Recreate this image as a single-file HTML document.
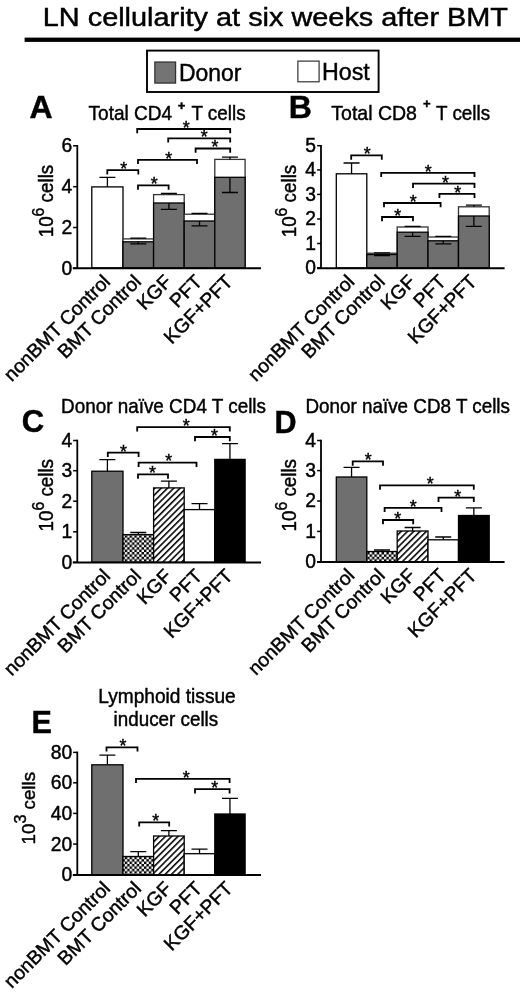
<!DOCTYPE html>
<html lang="en"><head><meta charset="utf-8"><title>LN cellularity at six weeks after BMT</title>
<style>html,body{margin:0;padding:0;background:#fff}svg{display:block}text{font-family:'Liberation Sans', Arial, Helvetica, sans-serif;fill:#000;stroke:#000;stroke-width:0.45px}</style></head><body>
<svg width="520" height="993" viewBox="0 0 520 993">
<defs>
<pattern id="hatch" width="4.45" height="4.45" patternUnits="userSpaceOnUse" patternTransform="rotate(-45)"><rect width="4.45" height="4.45" fill="#fff"/><rect y="0" width="4.45" height="1.55" fill="#000"/></pattern>
<pattern id="check" width="4.8" height="4.8" patternUnits="userSpaceOnUse"><rect width="4.8" height="4.8" fill="#000"/><rect x="0" y="0" width="2.4" height="2.4" fill="#fff" rx="0.5"/><rect x="2.4" y="2.4" width="2.4" height="2.4" fill="#fff" rx="0.5"/></pattern>
</defs>
<rect width="520" height="993" fill="#fff"/>
<text x="42.8" y="25.8" font-size="25.8" textLength="465.2" lengthAdjust="spacingAndGlyphs">LN cellularity at six weeks after BMT</text>
<rect x="24.6" y="37.6" width="495.4" height="4.3" fill="#000"/>
<rect x="147" y="50.6" width="231.6" height="41.4" fill="#fff" stroke="#000" stroke-width="1.9"/>
<rect x="154.85" y="62.05" width="20.7" height="21" fill="#747474" stroke="#333" stroke-width="1.3"/>
<text x="179" y="80.6" font-size="24.6" textLength="62.5" lengthAdjust="spacingAndGlyphs">Donor</text>
<rect x="297.9" y="61.1" width="21.2" height="20.7" fill="#fff" stroke="#333" stroke-width="1.2"/>
<text x="322" y="79.8" font-size="24.6" textLength="47.8" lengthAdjust="spacingAndGlyphs">Host</text>
<text x="29.6" y="118" font-size="32" font-weight="bold">A</text>
<text x="88.6" y="119.5" font-size="20.8" textLength="83.6" lengthAdjust="spacingAndGlyphs">Total CD4</text>
<text x="181.6" y="109.8" font-size="13" text-anchor="middle" font-weight="bold">+</text>
<text x="191.4" y="119.5" font-size="20.8" textLength="54.2" lengthAdjust="spacingAndGlyphs">T cells</text>
<rect x="91.8" y="186.9" width="31.2" height="81.1" fill="#fff" stroke="#000" stroke-width="1.3"/>
<path d="M107.4 186.9V177.3M99.4 177.3H115.4" fill="none" stroke="#000" stroke-width="1.3"/>
<rect x="123.0" y="238.9" width="30.6" height="29.1" fill="#fff" stroke="#333" stroke-width="1.3"/>
<rect x="123.0" y="241.8" width="30.6" height="26.2" fill="#6f6f6f" stroke="#000" stroke-width="1.3"/>
<path d="M138.3 241.8V243.8M130.3 243.8H146.3" fill="none" stroke="#000" stroke-width="1.3"/>
<path d="M138.3 238.9V238.2M130.3 238.2H146.3" fill="none" stroke="#000" stroke-width="1.3"/>
<rect x="153.6" y="194.6" width="30.6" height="73.4" fill="#fff" stroke="#333" stroke-width="1.3"/>
<rect x="153.6" y="203.0" width="30.6" height="65.0" fill="#6f6f6f" stroke="#000" stroke-width="1.3"/>
<path d="M168.89999999999998 203.0V209.4M160.89999999999998 209.4H176.89999999999998" fill="none" stroke="#000" stroke-width="1.3"/>
<path d="M168.89999999999998 194.6V193.4M160.89999999999998 193.4H176.89999999999998" fill="none" stroke="#000" stroke-width="1.3"/>
<rect x="184.2" y="214.2" width="30.6" height="53.8" fill="#fff" stroke="#333" stroke-width="1.3"/>
<rect x="184.2" y="221.0" width="30.6" height="47.0" fill="#6f6f6f" stroke="#000" stroke-width="1.3"/>
<path d="M199.5 221.0V225.8M191.5 225.8H207.5" fill="none" stroke="#000" stroke-width="1.3"/>
<path d="M199.5 214.2V213.3M191.5 213.3H207.5" fill="none" stroke="#000" stroke-width="1.3"/>
<rect x="214.8" y="159.4" width="30.3" height="108.6" fill="#fff" stroke="#333" stroke-width="1.3"/>
<rect x="214.8" y="177.3" width="30.3" height="90.7" fill="#6f6f6f" stroke="#000" stroke-width="1.3"/>
<path d="M229.95 177.3V192.5M221.95 192.5H237.95" fill="none" stroke="#000" stroke-width="1.3"/>
<path d="M229.95 159.4V157.2M221.95 157.2H237.95" fill="none" stroke="#000" stroke-width="1.3"/>
<path d="M77.3 145.0V268.0" stroke="#000" stroke-width="1.8" fill="none"/>
<path d="M73.1 145.8H77.3" stroke="#000" stroke-width="1.5" fill="none"/>
<text x="72.3" y="151.9" font-size="19.3" text-anchor="end">6</text>
<path d="M73.1 186.7H77.3" stroke="#000" stroke-width="1.5" fill="none"/>
<text x="72.3" y="193.1" font-size="19.3" text-anchor="end">4</text>
<path d="M73.1 227.5H77.3" stroke="#000" stroke-width="1.5" fill="none"/>
<text x="72.3" y="233.9" font-size="19.3" text-anchor="end">2</text>
<path d="M73.1 268.3H77.3" stroke="#000" stroke-width="1.5" fill="none"/>
<text x="72.3" y="274.7" font-size="19.3" text-anchor="end">0</text>
<path d="M72.8 268.3H261" stroke="#000" stroke-width="2" fill="none"/>
<g transform="translate(53 237.3) rotate(-90) scale(0.955 1)"><text x="0" y="0" font-size="19.7">10<tspan dy="-8.9" font-size="16.5">6</tspan><tspan dy="8.9"> cells</tspan></text></g>
<path d="M137.2 133.3V129.0H230.2V133.3" fill="none" stroke="#000" stroke-width="1.8"/>
<text x="186.3" y="133.8" font-size="17.8" text-anchor="middle" stroke-width="0.5">*</text>
<path d="M168.2 142.60000000000002V138.3H230.2V142.60000000000002" fill="none" stroke="#000" stroke-width="1.8"/>
<text x="204.2" y="143.1" font-size="17.8" text-anchor="middle" stroke-width="0.5">*</text>
<path d="M195.6 152.8V148.5H230.2V152.8" fill="none" stroke="#000" stroke-width="1.8"/>
<text x="214.9" y="153.3" font-size="17.8" text-anchor="middle" stroke-width="0.5">*</text>
<path d="M138.0 164.10000000000002V159.8H197.0V164.10000000000002" fill="none" stroke="#000" stroke-width="1.8"/>
<text x="168.7" y="164.6" font-size="17.8" text-anchor="middle" stroke-width="0.5">*</text>
<path d="M107.3 174.5V170.2H138.3V174.5" fill="none" stroke="#000" stroke-width="1.8"/>
<text x="123.6" y="175.0" font-size="17.8" text-anchor="middle" stroke-width="0.5">*</text>
<path d="M138.0 189.70000000000002V185.4H168.6V189.70000000000002" fill="none" stroke="#000" stroke-width="1.8"/>
<text x="154.2" y="190.2" font-size="17.8" text-anchor="middle" stroke-width="0.5">*</text>
<text transform="translate(111.4 282.9) rotate(-45)" font-size="19.4" text-anchor="end">nonBMT Control</text>
<text transform="translate(142.3 282.9) rotate(-45)" font-size="19.4" text-anchor="end">BMT Control</text>
<text transform="translate(172.89999999999998 282.9) rotate(-45)" font-size="19.4" text-anchor="end">KGF</text>
<text transform="translate(203.5 282.9) rotate(-45)" font-size="19.4" text-anchor="end">PFT</text>
<text transform="translate(233.95 282.9) rotate(-45)" font-size="19.4" text-anchor="end">KGF+PFT</text>
<text x="288.7" y="117.6" font-size="32" font-weight="bold">B</text>
<text x="331.3" y="119.6" font-size="20.8" textLength="85.6" lengthAdjust="spacingAndGlyphs">Total CD8</text>
<text x="426.7" y="108.2" font-size="13" text-anchor="middle" font-weight="bold">+</text>
<text x="436.0" y="119.6" font-size="20.8" textLength="54.2" lengthAdjust="spacingAndGlyphs">T cells</text>
<rect x="336.3" y="173.8" width="30.5" height="94.2" fill="#fff" stroke="#000" stroke-width="1.3"/>
<path d="M351.55 173.8V163.0M343.55 163.0H359.55" fill="none" stroke="#000" stroke-width="1.3"/>
<rect x="366.8" y="253.2" width="30.4" height="14.8" fill="#fff" stroke="#333" stroke-width="1.3"/>
<rect x="366.8" y="254.5" width="30.4" height="13.5" fill="#6f6f6f" stroke="#000" stroke-width="1.3"/>
<path d="M382.0 254.5V255.6M374.0 255.6H390.0" fill="none" stroke="#000" stroke-width="1.3"/>
<path d="M382.0 253.2V252.8M374.0 252.8H390.0" fill="none" stroke="#000" stroke-width="1.3"/>
<rect x="397.2" y="227.0" width="30.8" height="41.0" fill="#fff" stroke="#333" stroke-width="1.3"/>
<rect x="397.2" y="232.2" width="30.8" height="35.8" fill="#6f6f6f" stroke="#000" stroke-width="1.3"/>
<path d="M412.6 232.2V236.4M404.6 236.4H420.6" fill="none" stroke="#000" stroke-width="1.3"/>
<path d="M412.6 227.0V226.3M404.6 226.3H420.6" fill="none" stroke="#000" stroke-width="1.3"/>
<rect x="428.0" y="237.0" width="30.5" height="31.0" fill="#fff" stroke="#333" stroke-width="1.3"/>
<rect x="428.0" y="240.8" width="30.5" height="27.2" fill="#6f6f6f" stroke="#000" stroke-width="1.3"/>
<path d="M443.25 240.8V243.8M435.25 243.8H451.25" fill="none" stroke="#000" stroke-width="1.3"/>
<path d="M443.25 237.0V236.3M435.25 236.3H451.25" fill="none" stroke="#000" stroke-width="1.3"/>
<rect x="458.5" y="206.8" width="30.7" height="61.2" fill="#fff" stroke="#333" stroke-width="1.3"/>
<rect x="458.5" y="216.0" width="30.7" height="52.0" fill="#6f6f6f" stroke="#000" stroke-width="1.3"/>
<path d="M473.85 216.0V226.3M465.85 226.3H481.85" fill="none" stroke="#000" stroke-width="1.3"/>
<path d="M473.85 206.8V205.2M465.85 205.2H481.85" fill="none" stroke="#000" stroke-width="1.3"/>
<path d="M321.0 144.9V268.0" stroke="#000" stroke-width="1.8" fill="none"/>
<path d="M317.1 145.7H321.0" stroke="#000" stroke-width="1.5" fill="none"/>
<text x="316.1" y="151.8" font-size="19.3" text-anchor="end">5</text>
<path d="M317.1 169.9H321.0" stroke="#000" stroke-width="1.5" fill="none"/>
<text x="316.1" y="176.3" font-size="19.3" text-anchor="end">4</text>
<path d="M317.1 194.4H321.0" stroke="#000" stroke-width="1.5" fill="none"/>
<text x="316.1" y="200.8" font-size="19.3" text-anchor="end">3</text>
<path d="M317.1 219.0H321.0" stroke="#000" stroke-width="1.5" fill="none"/>
<text x="316.1" y="225.4" font-size="19.3" text-anchor="end">2</text>
<path d="M317.1 243.5H321.0" stroke="#000" stroke-width="1.5" fill="none"/>
<text x="316.1" y="249.9" font-size="19.3" text-anchor="end">1</text>
<path d="M317.1 268.0H321.0" stroke="#000" stroke-width="1.5" fill="none"/>
<text x="316.1" y="274.4" font-size="19.3" text-anchor="end">0</text>
<path d="M317.1 268.3H504.6" stroke="#000" stroke-width="2" fill="none"/>
<g transform="translate(296 237.3) rotate(-90) scale(0.955 1)"><text x="0" y="0" font-size="19.7">10<tspan dy="-8.9" font-size="16.5">6</tspan><tspan dy="8.9"> cells</tspan></text></g>
<path d="M351.2 159.70000000000002V155.4H381.8V159.70000000000002" fill="none" stroke="#000" stroke-width="1.8"/>
<text x="367.2" y="160.2" font-size="17.8" text-anchor="middle" stroke-width="0.5">*</text>
<path d="M381.2 177.10000000000002V172.8H474.5V177.10000000000002" fill="none" stroke="#000" stroke-width="1.8"/>
<text x="428.3" y="177.6" font-size="17.8" text-anchor="middle" stroke-width="0.5">*</text>
<path d="M413.0 188.0V183.7H474.5V188.0" fill="none" stroke="#000" stroke-width="1.8"/>
<text x="445.5" y="188.5" font-size="17.8" text-anchor="middle" stroke-width="0.5">*</text>
<path d="M439.4 198.10000000000002V193.8H474.5V198.10000000000002" fill="none" stroke="#000" stroke-width="1.8"/>
<text x="457.8" y="198.6" font-size="17.8" text-anchor="middle" stroke-width="0.5">*</text>
<path d="M384.0 207.3V203.0H440.6V207.3" fill="none" stroke="#000" stroke-width="1.8"/>
<text x="413.2" y="207.8" font-size="17.8" text-anchor="middle" stroke-width="0.5">*</text>
<path d="M382.0 221.3V217.0H413.0V221.3" fill="none" stroke="#000" stroke-width="1.8"/>
<text x="397.8" y="221.8" font-size="17.8" text-anchor="middle" stroke-width="0.5">*</text>
<text transform="translate(355.55 282.9) rotate(-45)" font-size="19.4" text-anchor="end">nonBMT Control</text>
<text transform="translate(386.0 282.9) rotate(-45)" font-size="19.4" text-anchor="end">BMT Control</text>
<text transform="translate(416.6 282.9) rotate(-45)" font-size="19.4" text-anchor="end">KGF</text>
<text transform="translate(447.25 282.9) rotate(-45)" font-size="19.4" text-anchor="end">PFT</text>
<text transform="translate(477.85 282.9) rotate(-45)" font-size="19.4" text-anchor="end">KGF+PFT</text>
<text x="21.8" y="432" font-size="31" font-weight="bold">C</text>
<text x="61" y="413.4" font-size="20.3" textLength="205" lengthAdjust="spacingAndGlyphs">Donor naïve CD4 T cells</text>
<path d="M107.4 471.2V459.6M99.4 459.6H115.4" fill="none" stroke="#000" stroke-width="1.3"/>
<rect x="91.8" y="471.2" width="31.2" height="91.1" fill="#6f6f6f" stroke="#000" stroke-width="1.3"/>
<path d="M138.3 534.6V532.5M130.3 532.5H146.3" fill="none" stroke="#000" stroke-width="1.3"/>
<rect x="123.0" y="534.6" width="30.6" height="27.7" fill="url(#check)" stroke="#000" stroke-width="1.3"/>
<path d="M168.89999999999998 487.9V481.2M160.89999999999998 481.2H176.89999999999998" fill="none" stroke="#000" stroke-width="1.3"/>
<rect x="153.6" y="487.9" width="30.6" height="74.4" fill="url(#hatch)" stroke="#000" stroke-width="1.3"/>
<path d="M199.5 509.6V503.7M191.5 503.7H207.5" fill="none" stroke="#000" stroke-width="1.3"/>
<rect x="184.2" y="509.6" width="30.6" height="52.7" fill="#fff" stroke="#000" stroke-width="1.3"/>
<path d="M229.95 459.4V443.7M221.95 443.7H237.95" fill="none" stroke="#000" stroke-width="1.3"/>
<rect x="214.8" y="459.4" width="30.3" height="102.9" fill="#000" stroke="#000" stroke-width="1.3"/>
<path d="M77.3 439.7V562.3" stroke="#000" stroke-width="1.8" fill="none"/>
<path d="M73.1 440.5H77.3" stroke="#000" stroke-width="1.5" fill="none"/>
<text x="72.3" y="446.6" font-size="19.3" text-anchor="end">4</text>
<path d="M73.1 470.7H77.3" stroke="#000" stroke-width="1.5" fill="none"/>
<text x="72.3" y="477.1" font-size="19.3" text-anchor="end">3</text>
<path d="M73.1 501.2H77.3" stroke="#000" stroke-width="1.5" fill="none"/>
<text x="72.3" y="507.6" font-size="19.3" text-anchor="end">2</text>
<path d="M73.1 531.8H77.3" stroke="#000" stroke-width="1.5" fill="none"/>
<text x="72.3" y="538.2" font-size="19.3" text-anchor="end">1</text>
<path d="M73.1 562.3H77.3" stroke="#000" stroke-width="1.5" fill="none"/>
<text x="72.3" y="568.7" font-size="19.3" text-anchor="end">0</text>
<path d="M72.8 562.5999999999999H261" stroke="#000" stroke-width="2" fill="none"/>
<g transform="translate(53 531.5) rotate(-90) scale(0.955 1)"><text x="0" y="0" font-size="19.7">10<tspan dy="-8.9" font-size="16.5">6</tspan><tspan dy="8.9"> cells</tspan></text></g>
<path d="M137.2 431.5V427.2H229.8V431.5" fill="none" stroke="#000" stroke-width="1.8"/>
<text x="186.3" y="432.0" font-size="17.8" text-anchor="middle" stroke-width="0.5">*</text>
<path d="M195.0 441.3V437.0H229.8V441.3" fill="none" stroke="#000" stroke-width="1.8"/>
<text x="214.4" y="441.8" font-size="17.8" text-anchor="middle" stroke-width="0.5">*</text>
<path d="M107.8 457.0V452.7H138.6V457.0" fill="none" stroke="#000" stroke-width="1.8"/>
<text x="123.5" y="457.5" font-size="17.8" text-anchor="middle" stroke-width="0.5">*</text>
<path d="M138.6 466.90000000000003V462.6H196.5V466.90000000000003" fill="none" stroke="#000" stroke-width="1.8"/>
<text x="168.7" y="467.4" font-size="17.8" text-anchor="middle" stroke-width="0.5">*</text>
<path d="M138.0 478.7V474.4H168.0V478.7" fill="none" stroke="#000" stroke-width="1.8"/>
<text x="152.5" y="479.2" font-size="17.8" text-anchor="middle" stroke-width="0.5">*</text>
<text transform="translate(111.4 577.1999999999999) rotate(-45)" font-size="19.4" text-anchor="end">nonBMT Control</text>
<text transform="translate(142.3 577.1999999999999) rotate(-45)" font-size="19.4" text-anchor="end">BMT Control</text>
<text transform="translate(172.89999999999998 577.1999999999999) rotate(-45)" font-size="19.4" text-anchor="end">KGF</text>
<text transform="translate(203.5 577.1999999999999) rotate(-45)" font-size="19.4" text-anchor="end">PFT</text>
<text transform="translate(233.95 577.1999999999999) rotate(-45)" font-size="19.4" text-anchor="end">KGF+PFT</text>
<text x="274.6" y="432.5" font-size="30.5" font-weight="bold">D</text>
<text x="305.4" y="412.5" font-size="20.3" textLength="204.6" lengthAdjust="spacingAndGlyphs">Donor naïve CD8 T cells</text>
<path d="M351.55 477.0V467.3M343.55 467.3H359.55" fill="none" stroke="#000" stroke-width="1.3"/>
<rect x="336.3" y="477.0" width="30.5" height="84.8" fill="#6f6f6f" stroke="#000" stroke-width="1.3"/>
<path d="M382.0 551.5V550.0M374.0 550.0H390.0" fill="none" stroke="#000" stroke-width="1.3"/>
<rect x="366.8" y="551.5" width="30.4" height="10.3" fill="url(#check)" stroke="#000" stroke-width="1.3"/>
<path d="M412.6 531.0V527.5M404.6 527.5H420.6" fill="none" stroke="#000" stroke-width="1.3"/>
<rect x="397.2" y="531.0" width="30.8" height="30.8" fill="url(#hatch)" stroke="#000" stroke-width="1.3"/>
<path d="M443.25 539.8V537.0M435.25 537.0H451.25" fill="none" stroke="#000" stroke-width="1.3"/>
<rect x="428.0" y="539.8" width="30.5" height="22.0" fill="#fff" stroke="#000" stroke-width="1.3"/>
<path d="M473.85 515.5V507.8M465.85 507.8H481.85" fill="none" stroke="#000" stroke-width="1.3"/>
<rect x="458.5" y="515.5" width="30.7" height="46.3" fill="#000" stroke="#000" stroke-width="1.3"/>
<path d="M321.0 439.7V561.8" stroke="#000" stroke-width="1.8" fill="none"/>
<path d="M317.1 440.5H321.0" stroke="#000" stroke-width="1.5" fill="none"/>
<text x="316.1" y="446.6" font-size="19.3" text-anchor="end">4</text>
<path d="M317.1 470.6H321.0" stroke="#000" stroke-width="1.5" fill="none"/>
<text x="316.1" y="477.0" font-size="19.3" text-anchor="end">3</text>
<path d="M317.1 501.0H321.0" stroke="#000" stroke-width="1.5" fill="none"/>
<text x="316.1" y="507.4" font-size="19.3" text-anchor="end">2</text>
<path d="M317.1 531.4H321.0" stroke="#000" stroke-width="1.5" fill="none"/>
<text x="316.1" y="537.8" font-size="19.3" text-anchor="end">1</text>
<path d="M317.1 561.8H321.0" stroke="#000" stroke-width="1.5" fill="none"/>
<text x="316.1" y="568.2" font-size="19.3" text-anchor="end">0</text>
<path d="M317.1 562.0999999999999H504.6" stroke="#000" stroke-width="2" fill="none"/>
<g transform="translate(296 531.5) rotate(-90) scale(0.955 1)"><text x="0" y="0" font-size="19.7">10<tspan dy="-8.9" font-size="16.5">6</tspan><tspan dy="8.9"> cells</tspan></text></g>
<path d="M352.7 465.7V461.4H383.0V465.7" fill="none" stroke="#000" stroke-width="1.8"/>
<text x="368.3" y="466.2" font-size="17.8" text-anchor="middle" stroke-width="0.5">*</text>
<path d="M380.0 489.7V485.4H473.8V489.7" fill="none" stroke="#000" stroke-width="1.8"/>
<text x="430.2" y="490.2" font-size="17.8" text-anchor="middle" stroke-width="0.5">*</text>
<path d="M438.5 502.0V497.7H473.8V502.0" fill="none" stroke="#000" stroke-width="1.8"/>
<text x="457.8" y="502.5" font-size="17.8" text-anchor="middle" stroke-width="0.5">*</text>
<path d="M384.6 512.1V507.8H441.5V512.1" fill="none" stroke="#000" stroke-width="1.8"/>
<text x="413.2" y="512.6" font-size="17.8" text-anchor="middle" stroke-width="0.5">*</text>
<path d="M383.0 524.3V520.0H413.2V524.3" fill="none" stroke="#000" stroke-width="1.8"/>
<text x="397.8" y="524.8" font-size="17.8" text-anchor="middle" stroke-width="0.5">*</text>
<text transform="translate(355.55 576.6999999999999) rotate(-45)" font-size="19.4" text-anchor="end">nonBMT Control</text>
<text transform="translate(386.0 576.6999999999999) rotate(-45)" font-size="19.4" text-anchor="end">BMT Control</text>
<text transform="translate(416.6 576.6999999999999) rotate(-45)" font-size="19.4" text-anchor="end">KGF</text>
<text transform="translate(447.25 576.6999999999999) rotate(-45)" font-size="19.4" text-anchor="end">PFT</text>
<text transform="translate(477.85 576.6999999999999) rotate(-45)" font-size="19.4" text-anchor="end">KGF+PFT</text>
<text x="31.5" y="733.2" font-size="30.5" font-weight="bold">E</text>
<text x="98.3" y="702.5" font-size="20" textLength="137.4" lengthAdjust="spacingAndGlyphs">Lymphoid tissue</text>
<text x="113.6" y="725.7" font-size="20" textLength="104.6" lengthAdjust="spacingAndGlyphs">inducer cells</text>
<path d="M107.4 764.8V755.2M99.4 755.2H115.4" fill="none" stroke="#000" stroke-width="1.3"/>
<rect x="91.8" y="764.8" width="31.2" height="109.9" fill="#6f6f6f" stroke="#000" stroke-width="1.3"/>
<path d="M138.3 856.5V851.7M130.3 851.7H146.3" fill="none" stroke="#000" stroke-width="1.3"/>
<rect x="123.0" y="856.5" width="30.6" height="18.2" fill="url(#check)" stroke="#000" stroke-width="1.3"/>
<path d="M168.89999999999998 836.0V830.6M160.89999999999998 830.6H176.89999999999998" fill="none" stroke="#000" stroke-width="1.3"/>
<rect x="153.6" y="836.0" width="30.6" height="38.7" fill="url(#hatch)" stroke="#000" stroke-width="1.3"/>
<path d="M199.5 853.7V849.2M191.5 849.2H207.5" fill="none" stroke="#000" stroke-width="1.3"/>
<rect x="184.2" y="853.7" width="30.6" height="21.0" fill="#fff" stroke="#000" stroke-width="1.3"/>
<path d="M229.95 814.0V798.3M221.95 798.3H237.95" fill="none" stroke="#000" stroke-width="1.3"/>
<rect x="214.8" y="814.0" width="30.3" height="60.7" fill="#000" stroke="#000" stroke-width="1.3"/>
<path d="M77.3 751.6V874.7" stroke="#000" stroke-width="1.8" fill="none"/>
<path d="M73.1 752.4H77.3" stroke="#000" stroke-width="1.5" fill="none"/>
<text x="72.3" y="758.5" font-size="19.3" text-anchor="end">80</text>
<path d="M73.1 782.8H77.3" stroke="#000" stroke-width="1.5" fill="none"/>
<text x="72.3" y="789.2" font-size="19.3" text-anchor="end">60</text>
<path d="M73.1 813.4H77.3" stroke="#000" stroke-width="1.5" fill="none"/>
<text x="72.3" y="819.8" font-size="19.3" text-anchor="end">40</text>
<path d="M73.1 844.1H77.3" stroke="#000" stroke-width="1.5" fill="none"/>
<text x="72.3" y="850.5" font-size="19.3" text-anchor="end">20</text>
<path d="M73.1 874.7H77.3" stroke="#000" stroke-width="1.5" fill="none"/>
<text x="72.3" y="881.1" font-size="19.3" text-anchor="end">0</text>
<path d="M72.8 875.0H261" stroke="#000" stroke-width="2" fill="none"/>
<g transform="translate(35.0 844.4) rotate(-90) scale(0.975 1)"><text x="0" y="0" font-size="19.2">10<tspan dy="-8.9" font-size="16.5">3</tspan><tspan dy="8.9"> cells</tspan></text></g>
<path d="M106.5 751.5999999999999V747.3H137.5V751.5999999999999" fill="none" stroke="#000" stroke-width="1.8"/>
<text x="122.9" y="752.1" font-size="17.8" text-anchor="middle" stroke-width="0.5">*</text>
<path d="M136.0 783.0999999999999V778.8H229.6V783.0999999999999" fill="none" stroke="#000" stroke-width="1.8"/>
<text x="186.3" y="783.6" font-size="17.8" text-anchor="middle" stroke-width="0.5">*</text>
<path d="M195.0 793.5V789.2H229.6V793.5" fill="none" stroke="#000" stroke-width="1.8"/>
<text x="214.8" y="794.0" font-size="17.8" text-anchor="middle" stroke-width="0.5">*</text>
<path d="M139.2 826.5999999999999V822.3H169.2V826.5999999999999" fill="none" stroke="#000" stroke-width="1.8"/>
<text x="155.6" y="827.1" font-size="17.8" text-anchor="middle" stroke-width="0.5">*</text>
<text transform="translate(111.4 889.6) rotate(-45)" font-size="19.4" text-anchor="end">nonBMT Control</text>
<text transform="translate(142.3 889.6) rotate(-45)" font-size="19.4" text-anchor="end">BMT Control</text>
<text transform="translate(172.89999999999998 889.6) rotate(-45)" font-size="19.4" text-anchor="end">KGF</text>
<text transform="translate(203.5 889.6) rotate(-45)" font-size="19.4" text-anchor="end">PFT</text>
<text transform="translate(233.95 889.6) rotate(-45)" font-size="19.4" text-anchor="end">KGF+PFT</text>
</svg></body></html>
